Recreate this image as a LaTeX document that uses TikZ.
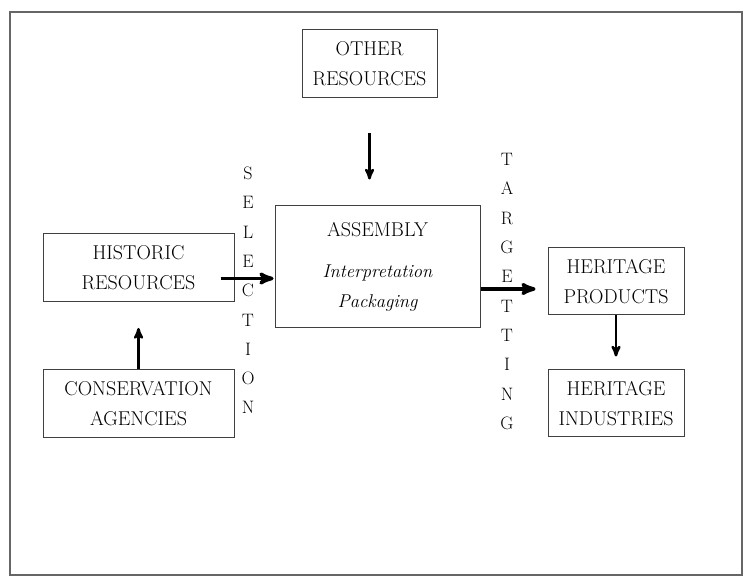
\documentclass[tikz,border=0pt]{standalone}
\usepackage{tikz}
\usetikzlibrary{arrows}

\begin{document}
\begin{tikzpicture}[x=1pt,y=-1pt,->,>=stealth',shorten >=1pt,node distance=136pt,
  thick,main node/.style={rectangle,draw=black!75,line width=1pt,text=black,font=\fontsize{20}{30}\selectfont,align=center,minimum width=191pt,minimum height=68pt},
  letters/.style={text=black,font=\fontsize{18}{29.3}\selectfont,align=center}]

  \useasboundingbox (0,0) rectangle (745,577);
  \draw[-,shorten >=0pt,line width=1.6pt,black!60] (10,12) rectangle (742,575);

  \node[main node,minimum width=135pt] (0) at (369.5,64) {OTHER\\RESOURCES};
  \node[main node,minimum width=205pt,minimum height=122pt] (1) at (377.5,267) {ASSEMBLY\\[11pt]{\fontsize{18.5}{28}\selectfont\itshape Interpretation}\\{\fontsize{18.5}{28}\selectfont\itshape Packaging}};
  \node[main node] (2) at (138.5,267.5) {HISTORIC\\RESOURCES};
  \node[main node] (3) [below of=2] {CONSERVATION\\AGENCIES};
  \node[main node,minimum width=136pt,minimum height=67pt] (4) at (616,281.5) {HERITAGE\\PRODUCTS};
  \node[main node,minimum width=136pt,minimum height=67pt,node distance=122pt] (5) [below of=4] {HERITAGE\\INDUSTRIES};
  \node[letters] (6) at (248,290.5) {S\\E\\L\\E\\C\\T\\I\\O\\N};
  \node[letters] (7) at (507,291.5) {T\\A\\R\\G\\E\\T\\T\\I\\N\\G};

  \coordinate (a) at ([shift={(-14,11)}]2.east);
  \coordinate (b) at ([shift={(0,22)}]1.east);

  \draw[line width=2.5pt,shorten <=35pt,shorten >=26pt] (0) -- (0 |- 1.north);
  \draw[line width=2.5pt,shorten >=26pt] (3) -- (2);
  \draw[line width=2.5pt,shorten >=13pt] (4) -- (5);
  \draw[line width=3.5pt] (a) -- (a -| 1.west);
  \draw[line width=3.5pt,shorten >=12pt] (b) -- (b -| 4.west);
\end{tikzpicture}
\end{document}
